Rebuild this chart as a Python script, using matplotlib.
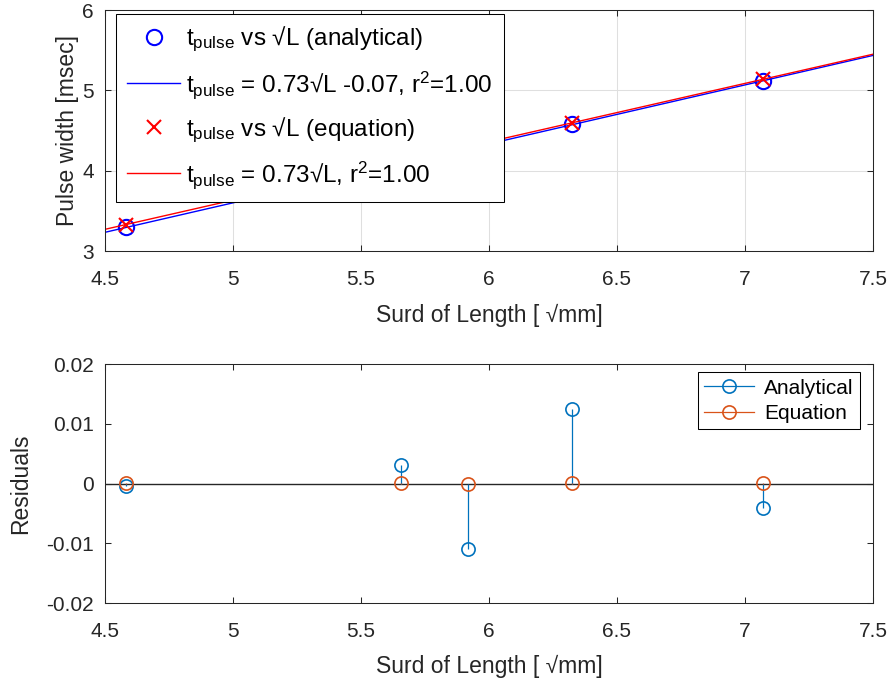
import numpy as np
import matplotlib
matplotlib.use('Agg')
import matplotlib.pyplot as plt
from matplotlib.lines import Line2D
from matplotlib.legend_handler import HandlerLine2D

# --- donnees ---
length_mm = np.array([21, 32, 35, 40, 50])
t_analytical = np.array([3.2933, 4.0852, 4.2614, 4.5848, 5.1160])
t_equation = np.array([3.3302, 4.1109, 4.2992, 4.5961, 5.1386])

surd = np.sqrt(length_mm)

# regression lineaire (analytique) et proportionnelle (equation)
p_an = np.polyfit(surd, t_analytical, 1)
fit_an = np.polyval(p_an, surd)
res_an = t_analytical - fit_an
r2_an = 1 - np.sum(res_an**2) / np.sum((t_analytical - t_analytical.mean())**2)

k_eq = np.sum(surd * t_equation) / np.sum(surd * surd)
res_eq = t_equation - k_eq * surd
r2_eq = 1 - np.sum(res_eq**2) / np.sum((t_equation - t_equation.mean())**2)

# --- style ---
plt.rcParams['font.family'] = ['Liberation Sans', 'DejaVu Sans']
plt.rcParams['mathtext.fontset'] = 'custom'
plt.rcParams['mathtext.rm'] = 'Liberation Sans'
plt.rcParams['mathtext.it'] = 'Liberation Sans:italic'
axcol = '#262626'
blue_m = '#0072BD'
orange_m = '#D95319'


class EndMarkerHandler(HandlerLine2D):
    # marqueur en bout de ligne, comme les legendes de stem
    def get_xdata(self, legend, xdescent, ydescent, width, height, fontsize):
        xdata = np.array([-xdescent, -xdescent + width])
        return xdata, np.array([-xdescent + width * 0.9])


def style_axes(ax):
    for s in ax.spines.values():
        s.set_color(axcol)
        s.set_linewidth(0.75)
    ax.tick_params(direction='in', top=True, right=True, length=4, width=0.75,
                   colors=axcol, labelsize=15)
    ax.tick_params(axis='x', pad=14)
    ax.tick_params(axis='y', pad=8)


fig = plt.figure(figsize=(8.92, 6.84), dpi=100)
ax1 = fig.add_axes([0.1177, 0.633, 0.861, 0.3523])
ax2 = fig.add_axes([0.1177, 0.1184, 0.861, 0.3494])

# --- figure 1 : largeur d'impulsion ---
ax1.set_xlim(4.5, 7.5)
ax1.set_ylim(3, 6)
xl = np.array(ax1.get_xlim())
ax1.plot(surd, t_analytical, 'o', color='b', ms=11, mfc='none', mew=1.5,
         label=r'$\mathrm{t}_{\mathrm{pulse}}$ vs √L (analytical)')
ax1.plot(xl, np.polyval(p_an, xl), '-', color='b', lw=1,
         label=r'$\mathrm{t}_{\mathrm{pulse}}$ = %.2f√L %.2f, $\mathrm{r}^{2}$=%.2f' % (p_an[0], p_an[1], r2_an))
ax1.plot(surd, t_equation, 'x', color='r', ms=10, mew=1.5,
         label=r'$\mathrm{t}_{\mathrm{pulse}}$ vs √L (equation)')
ax1.plot(xl, k_eq * xl, '-', color='r', lw=1,
         label=r'$\mathrm{t}_{\mathrm{pulse}}$ = %.2f√L, $\mathrm{r}^{2}$=%.2f' % (k_eq, r2_eq))
ax1.set_xticks(np.arange(4.5, 7.51, 0.5))
ax1.set_xticklabels(['4.5', '5', '5.5', '6', '6.5', '7', '7.5'])
ax1.set_yticks([3, 4, 5, 6])
ax1.grid(True, color='#dfdfdf', lw=0.75)
ax1.set_axisbelow(True)
style_axes(ax1)
ax1.set_xlabel('Surd of Length [ √mm]', fontsize=16.5, color=axcol, labelpad=10)
ax1.set_ylabel('Pulse width [msec]', fontsize=16.5, color=axcol, labelpad=2)
leg1 = ax1.legend(loc='upper left', bbox_to_anchor=(0.0143, 0.983), borderaxespad=0,
                  fontsize=17.5, handlelength=2.2, handletextpad=0.25, labelspacing=0.6,
                  borderpad=0.45, fancybox=False, framealpha=1, edgecolor='k',
                  numpoints=1)
leg1.get_frame().set_linewidth(0.75)
leg1.set_zorder(10)

# --- figure 2 : residus ---
ax2.set_xlim(4.5, 7.5)
ax2.set_ylim(-0.02, 0.02)
ax2.axhline(0, color=axcol, lw=1, zorder=1)
ax2.vlines(surd, 0, res_an, color=blue_m, lw=0.9, zorder=2)
ax2.plot(surd, res_an, 'o', color=blue_m, ms=9.5, mfc='none', mew=1.2, zorder=3)
ax2.vlines(surd, 0, res_eq, color=orange_m, lw=0.9, zorder=4)
ax2.plot(surd, res_eq, 'o', color=orange_m, ms=9.5, mfc='none', mew=1.2, zorder=5)
ax2.set_xticks(np.arange(4.5, 7.51, 0.5))
ax2.set_xticklabels(['4.5', '5', '5.5', '6', '6.5', '7', '7.5'])
ax2.set_yticks([-0.02, -0.01, 0, 0.01, 0.02])
ax2.set_yticklabels(['-0.02', '-0.01', '0', '0.01', '0.02'])
style_axes(ax2)
ax2.set_xlabel('Surd of Length [ √mm]', fontsize=16.5, color=axcol, labelpad=10)
ax2.set_ylabel('Residuals', fontsize=16.5, color=axcol, labelpad=10)

h_an = Line2D([], [], color=blue_m, lw=0.9, marker='o', ms=9.5, mfc='none', mew=1.2)
h_eq = Line2D([], [], color=orange_m, lw=0.9, marker='o', ms=9.5, mfc='none', mew=1.2)
leg2 = ax2.legend([h_an, h_eq], ['Analytical', 'Equation'], loc='upper right',
                  bbox_to_anchor=(0.983, 0.967), borderaxespad=0, fontsize=15,
                  handlelength=2.4, handletextpad=0.45, labelspacing=0.3, borderpad=0.32,
                  fancybox=False, framealpha=1, edgecolor='k', numpoints=1,
                  handler_map={Line2D: EndMarkerHandler()})
leg2.get_frame().set_linewidth(0.75)

fig.savefig('out.png', dpi=100)
